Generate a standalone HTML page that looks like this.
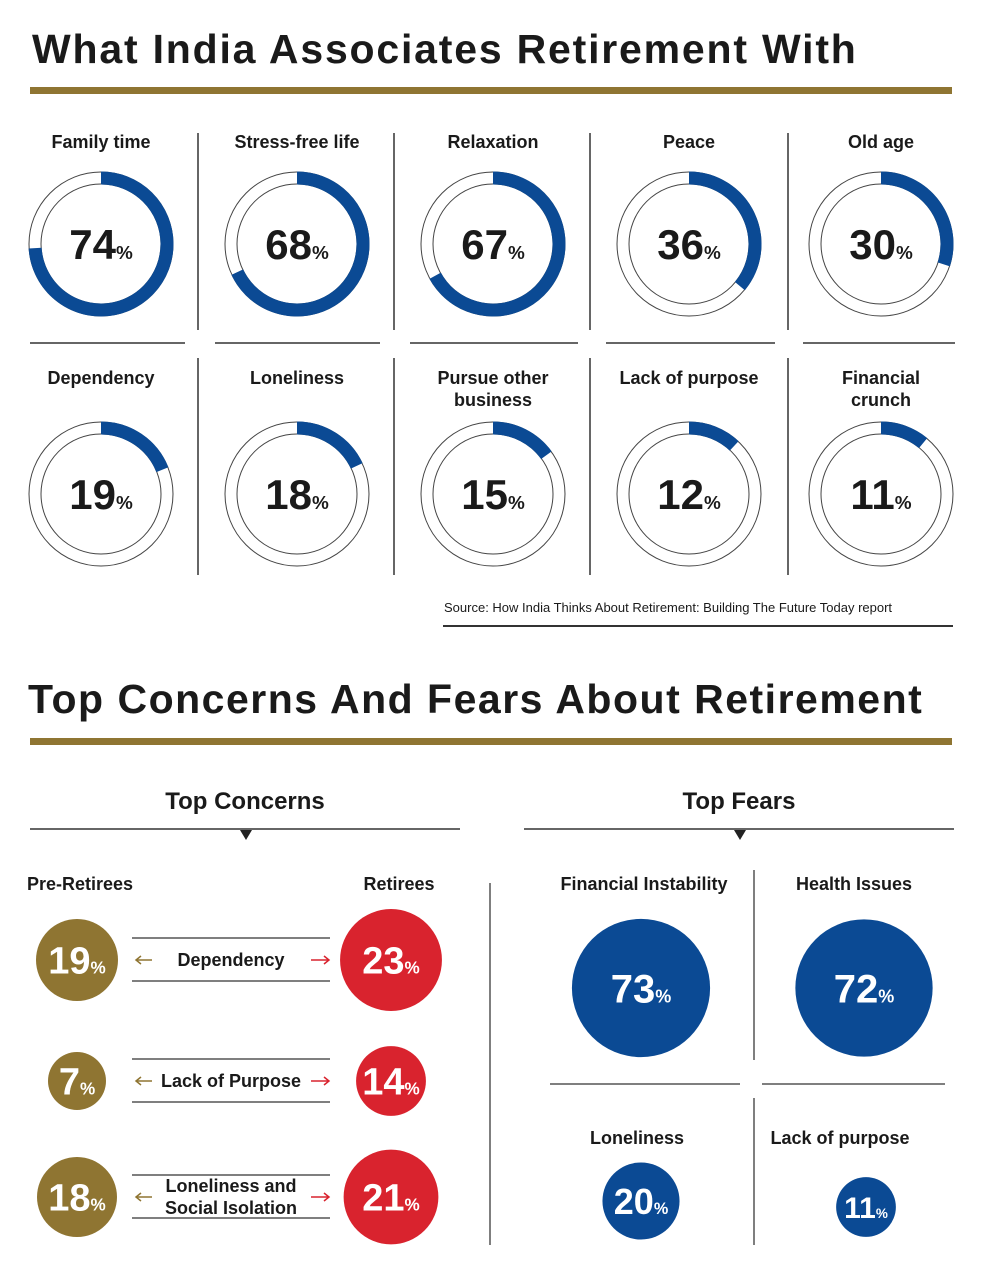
<!DOCTYPE html>
<html><head><meta charset="utf-8"><style>
body{margin:0;background:#fff;font-family:"Liberation Sans",sans-serif;color:#1a1a1a}
#root{position:relative;width:1000px;height:1265px;overflow:hidden}
.t{position:absolute;white-space:nowrap}
.ln{position:absolute;background:#333}
</style></head><body>
<div id="root">
<div class="t" style="left:32px;top:26px;font-size:41px;font-weight:bold;letter-spacing:1.8px">What India Associates Retirement With</div>
<div class="ln" style="left:30px;top:87px;width:922px;height:7px;background:#8f7532"></div>
<svg id="donuts" width="1000" height="640" style="position:absolute;left:0;top:0"></svg>
<div class="t" style="left:444px;top:600px;font-size:13px">Source: How India Thinks About Retirement: Building The Future Today report</div>
<div class="ln" style="left:443px;top:625px;width:510px;height:1.5px"></div>
<div class="t" style="left:28px;top:676px;font-size:41px;font-weight:bold;letter-spacing:1.5px">Top Concerns And Fears About Retirement</div>
<div class="ln" style="left:30px;top:738px;width:922px;height:7px;background:#8f7532"></div>
<div class="t" style="left:30px;width:430px;text-align:center;top:788px;font-size:24px;font-weight:bold">Top Concerns</div>
<div class="t" style="left:524px;width:430px;text-align:center;top:788px;font-size:24px;font-weight:bold">Top Fears</div>
<svg id="bottom" width="1000" height="1265" style="position:absolute;left:0;top:0"></svg>
</div>
<script>
const labels=["Family time","Stress-free life","Relaxation","Peace","Old age","Dependency","Loneliness","Pursue other|business","Lack of purpose","Financial|crunch"];
const values=[74,68,67,36,30,19,18,15,12,11];
const concernLabels=["Dependency","Lack of Purpose","Loneliness and|Social Isolation"];
const preRetirees=[19,7,18];
const retirees=[23,14,21];
const fearLabels=["Financial Instability","Health Issues","Loneliness","Lack of purpose"];
const fearValues=[73,72,20,11];
const NS="http://www.w3.org/2000/svg";
function mk(p,tag,a){const e=document.createElementNS(NS,tag);for(const k in a)e.setAttribute(k,a[k]);p.appendChild(e);return e;}
function pctText(p,cx,cy,v,size,col,nm){const t=mk(p,'text',{x:cx,y:cy+size*0.36,'text-anchor':'middle','font-family':'Liberation Sans, sans-serif','font-weight':'bold','font-size':size,fill:col});

t.textContent=v;const s=mk(t,'tspan',{'font-size':size*0.45});s.textContent='%';}
const d=document.getElementById('donuts');
const colX=[101,297,493,689,881];
for(let i=0;i<values.length;i++){
 const r=Math.floor(i/5),c=i%5,cx=colX[c],cy=r?494:244;
 const g=mk(d,'g',{});
 const parts=labels[i].split('|');
 parts.forEach((p,j)=>{const t=mk(g,'text',{x:cx,y:(r?384:148)+j*22,'text-anchor':'middle','font-family':'Liberation Sans, sans-serif','font-weight':'bold','font-size':18,fill:'#1a1a1a'});t.textContent=p;});
 mk(g,'circle',{cx,cy,r:72,fill:'none',stroke:'#444','stroke-width':1});
 mk(g,'circle',{cx,cy,r:60,fill:'none',stroke:'#444','stroke-width':1});
 const R=66,a=values[i]/100*2*Math.PI;
 const x2=cx+R*Math.sin(a),y2=cy-R*Math.cos(a);
 mk(g,'path',{d:`M${cx} ${cy-R} A${R} ${R} 0 ${values[i]>50?1:0} 1 ${x2} ${y2}`,fill:'none',stroke:'#0b4a94','stroke-width':13});
 pctText(g,cx,cy,values[i],42,'#1a1a1a','donut-value');
}
[198,394,590,788].forEach(x=>{mk(d,'line',{x1:x,y1:133,x2:x,y2:330,stroke:'#333','stroke-width':1.5});mk(d,'line',{x1:x,y1:358,x2:x,y2:575,stroke:'#333','stroke-width':1.5});});
[[30,185],[215,380],[410,578],[606,775],[803,955]].forEach(s=>mk(d,'line',{x1:s[0],y1:343,x2:s[1],y2:343,stroke:'#333','stroke-width':1.5}));
const b=document.getElementById('bottom');
mk(b,'line',{x1:30,y1:829,x2:460,y2:829,stroke:'#333','stroke-width':1.5});
mk(b,'path',{d:'M240 830 L252 830 L246 840Z',fill:'#222'});
mk(b,'line',{x1:524,y1:829,x2:954,y2:829,stroke:'#333','stroke-width':1.5});
mk(b,'path',{d:'M734 830 L746 830 L740 840Z',fill:'#222'});
mk(b,'line',{x1:490,y1:883,x2:490,y2:1245,stroke:'#555','stroke-width':1.5});
function txt(x,y,s,sz,anchor,nm){const t=mk(b,'text',{x,y,'text-anchor':anchor||'middle','font-family':'Liberation Sans, sans-serif','font-weight':'bold','font-size':sz,fill:'#1a1a1a'});t.textContent=s;return t;}
txt(80,890,'Pre-Retirees',18,'middle','pre-retirees-label');
txt(399,890,'Retirees',18,'middle','retirees-label');
const rowY=[960,1081,1197];
const preR=v=>22+v;
const retR=v=>10+1.78*v;
for(let i=0;i<3;i++){
 const y=rowY[i];
 mk(b,'line',{x1:132,y1:y-22,x2:330,y2:y-22,stroke:'#555','stroke-width':1.5});
 mk(b,'line',{x1:132,y1:y+21,x2:330,y2:y+21,stroke:'#555','stroke-width':1.5});
 mk(b,'path',{d:`M152 ${y} L136 ${y} M141 ${y-4} L136 ${y} L141 ${y+4}`,stroke:'#8f7532','stroke-width':1.5,fill:'none'});
 mk(b,'path',{d:`M311 ${y} L329 ${y} M324 ${y-4} L329 ${y} L324 ${y+4}`,stroke:'#d9232e','stroke-width':1.5,fill:'none'});
 const parts=concernLabels[i].split('|');
 parts.forEach((p,j)=>txt(231,y+6+(j-(parts.length-1)/2)*22,p,18,'middle','concern-label'));
 const c1=mk(b,'circle',{cx:77,cy:y,r:preR(preRetirees[i]),fill:'#8f7532'});
 pctText(b,77,y,preRetirees[i],38,'#fff','pre-retiree-value');
 const c2=mk(b,'circle',{cx:391,cy:y,r:retR(retirees[i]),fill:'#d9232e'});
 pctText(b,391,y,retirees[i],38,'#fff','retiree-value');
}
mk(b,'line',{x1:754,y1:870,x2:754,y2:1060,stroke:'#555','stroke-width':1.5});
mk(b,'line',{x1:754,y1:1098,x2:754,y2:1245,stroke:'#555','stroke-width':1.5});
mk(b,'line',{x1:550,y1:1084,x2:740,y2:1084,stroke:'#555','stroke-width':1.5});
mk(b,'line',{x1:762,y1:1084,x2:945,y2:1084,stroke:'#555','stroke-width':1.5});
const fc=[[641,988],[864,988],[641,1201],[866,1207]];
const ly=[890,890,1144,1144],lx=[644,854,637,840];
const fearR=v=>5+7.5*Math.sqrt(v);
for(let i=0;i<4;i++){
 txt(lx[i],ly[i],fearLabels[i],18,'middle','fear-label');
 const c=mk(b,'circle',{cx:fc[i][0],cy:fc[i][1],r:fearR(fearValues[i]),fill:'#0b4a94'});
 pctText(b,fc[i][0],fc[i][1],fearValues[i],i<2?40:(i==2?36:30),'#fff','fear-value');
}
</script>
</body></html>
